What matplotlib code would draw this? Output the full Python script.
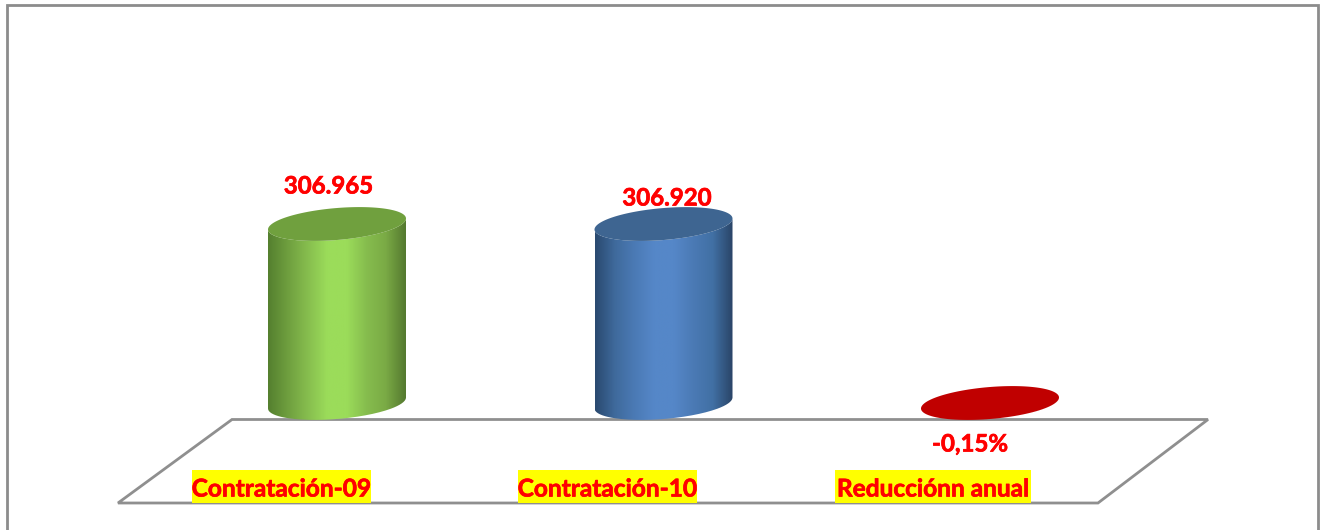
import matplotlib
matplotlib.use("Agg")
import matplotlib.pyplot as plt
import matplotlib.patheffects as pe
from matplotlib.colors import LinearSegmentedColormap
from matplotlib.patches import PathPatch, Polygon, Rectangle
from matplotlib.path import Path
import numpy as np

categories = ["Contratación-09", "Contratación-10", "Reducciónn anual"]
values = [306965, 306920, 0]
value_labels = ["306.965", "306.920", "-0,15%"]
bar_colors = [["#55802f", "#6f9f3f", "#86bd4e", "#9bdc5a", "#9bdc5a", "#86bd4e", "#7aaa45", "#557a30"],
              ["#2a4a70", "#3f6a9c", "#4b7ab5", "#5587c8", "#5587c8", "#4b7ab5", "#4170a4", "#2a4568"],
              ["#c00000"] * 8]
top_colors = ["#70a03e", "#3e6591", "#c00000"]

W, H = 1324, 530
# one category = 326.5 px, baseline at y=403 px, 306965 = 179 px
px_x = 326.5
px_y = 306965 / 179.0


def X(p):
    return (p - 337) / px_x


def Y(p):
    return (403 - p) * px_y


fig = plt.figure(figsize=(W / 100, H / 100), dpi=100)
ax = fig.add_axes([0, 0, 1, 1])
ax.set_xlim(X(0), X(W))
ax.set_ylim(Y(H), Y(0))
ax.axis("off")
plt.rcParams["font.family"] = ["Lato", "DejaVu Sans"]

# outer frame
ax.add_patch(Polygon([(X(6.7), Y(540)), (X(6.7), Y(5.2)), (X(1317.5), Y(5.2)), (X(1317.5), Y(540))],
                     closed=False, fill=False, ec="#8c8c8c", lw=2.0))
# floor
ax.add_patch(Polygon([(X(232), Y(419.5)), (X(1208), Y(419.5)), (X(1098), Y(503)), (X(118), Y(503))],
                     closed=True, fc="white", ec="#8f8f8f", lw=2.0, joinstyle="miter"))


def ellipse(i, v, t):
    # tilted ellipse, 69 px half width, sits higher on the right
    x = i + 69 / px_x * np.cos(t)
    y = v + (5.5 * np.cos(t) + 16 * np.sin(t)) * px_y
    return x, y


for i, (v, c, tc) in enumerate(zip(values, bar_colors, top_colors)):
    # body outline: lower half of base ellipse and upper edge along the top ellipse
    low = np.linspace(np.pi, 2 * np.pi, 80)
    bx, by = ellipse(i, 0, low)
    tx, ty = ellipse(i, v, low[::-1])
    verts = np.column_stack([np.r_[bx, tx], np.r_[by, ty]])
    clip = PathPatch(Path(np.vstack([verts, verts[0]])), transform=ax.transData, fc="none", ec="none")
    ax.add_patch(clip)
    cmap = LinearSegmentedColormap.from_list("c%d" % i, c)
    im = ax.imshow(np.linspace(0, 1, 200).reshape(1, -1), cmap=cmap, aspect="auto",
                   extent=(i - 69 / px_x, i + 69 / px_x, Y(430), Y(200)), zorder=2)
    im.set_clip_path(clip)
    ex, ey = ellipse(i, v, np.linspace(0, 2 * np.pi, 160))
    ax.fill(ex, ey, color=tc, lw=0, zorder=3)

ax.set_xlim(X(0), X(W))
ax.set_ylim(Y(H), Y(0))

# value labels
label_px = [186, 198, 444]
label_x = [328.5, 667, 970]
stroke = [pe.withStroke(linewidth=0.5, foreground="#ff0000")]
for lab, xp, yp in zip(value_labels, label_x, label_px):
    ax.text(X(xp), Y(yp), lab, color="#ff0000", fontsize=17.3, fontweight="bold",
            ha="center", va="center", zorder=5, path_effects=stroke)

# category labels with yellow highlight
cat_left = [192, 518, 835]
cat_right = [371, 697, 1031]
for cat, xl, xr in zip(categories, cat_left, cat_right):
    ax.add_patch(Rectangle((X(xl), Y(503)), X(xr) - X(xl), Y(470) - Y(503), fc="#ffff00", ec="none", zorder=4))
    ax.text(X((xl + xr) / 2), Y(489), cat, color="#ff0000", fontsize=17.6, fontweight="bold", ha="center",
            va="center", zorder=5, path_effects=stroke)

plt.savefig("out.png", dpi=100)
